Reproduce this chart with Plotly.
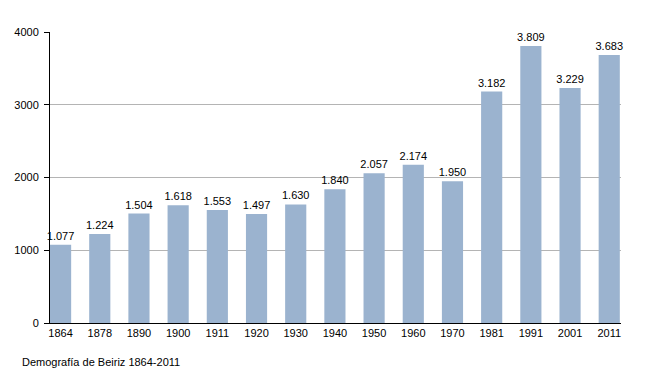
import plotly.graph_objects as go

years = ["1864", "1878", "1890", "1900", "1911", "1920", "1930", "1940",
         "1950", "1960", "1970", "1981", "1991", "2001", "2011"]
population = [1077, 1224, 1504, 1618, 1553, 1497, 1630, 1840,
              2057, 2174, 1950, 3182, 3809, 3229, 3683]
labels = [f"{v:,}".replace(",", ".") for v in population]
y_ticks = [0, 1000, 2000, 3000, 4000]
caption = "Demografía de Beiriz 1864-2011"

fig = go.Figure(go.Bar(
    x=list(range(len(years))), y=population, text=labels,
    textposition="outside", textfont=dict(size=11, color="black"),
    constraintext="none",
    marker=dict(color="#9bb3cf", line=dict(width=0)),
    width=0.54, cliponaxis=False,
))

fig.update_layout(
    width=642, height=365,
    margin=dict(l=42, r=29, t=24, b=50, autoexpand=False),
    paper_bgcolor="white", plot_bgcolor="white",
    font=dict(family="Liberation Sans, Arial, sans-serif", size=11, color="black"),
    showlegend=False,
    xaxis=dict(tickmode="array", tickvals=list(range(len(years))), ticktext=years,
               range=[-0.27, 14.3], showline=True, linecolor="black", linewidth=1,
               ticks="", showgrid=False, zeroline=False, tickfont=dict(size=11)),
    yaxis=dict(range=[0, 4000], tickvals=y_ticks, showline=True, linecolor="black",
               linewidth=1, ticks="outside", ticklen=5, tickcolor="black",
               ticklabelstandoff=3,
               showgrid=True, gridcolor="#b4b4b4", gridwidth=1, zeroline=False,
               tickfont=dict(size=11)),
    annotations=[dict(text=caption, xref="paper", yref="paper", x=-0.0525, y=-39 / 291,
                      xanchor="left", yanchor="middle", showarrow=False,
                      font=dict(size=11))],
)

fig.write_html("out.html")
